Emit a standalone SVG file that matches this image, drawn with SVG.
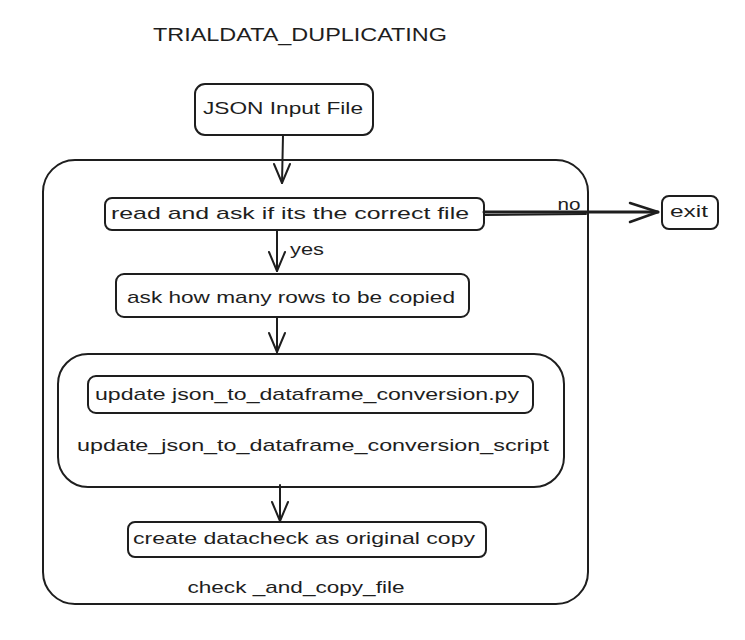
<svg xmlns="http://www.w3.org/2000/svg" width="745" height="640" viewBox="0 0 745 640">
  <style>
    .box { fill: #ffffff; stroke: #1e1e1e; stroke-width: 2; }
    .cont { fill: none; stroke: #1e1e1e; stroke-width: 2; }
    .lbl { font-family: "Liberation Sans", Arial, sans-serif; font-size: 17px; fill: #1e1e1e; text-anchor: middle; dominant-baseline: central; }
    .title { font-family: "Liberation Sans", Arial, sans-serif; font-size: 18px; fill: #1e1e1e; text-anchor: middle; dominant-baseline: central; }
    .edge { fill: none; stroke: #1e1e1e; stroke-width: 2; stroke-linecap: round; }
    .head { fill: none; stroke: #1e1e1e; stroke-width: 2; stroke-linecap: round; stroke-linejoin: round; }
  </style>
  <rect width="745" height="640" fill="#ffffff"/>

  <g id="title">
    <text class="title" x="300" y="35" textLength="294" lengthAdjust="spacingAndGlyphs">TRIALDATA_DUPLICATING</text>
  </g>

  <g id="check_and_copy_file">
    <rect class="cont" x="43" y="160" width="545" height="444" rx="32" ry="32"/>
    <text class="lbl" x="296" y="587" textLength="217" lengthAdjust="spacingAndGlyphs">check _and_copy_file</text>
  </g>

  <g id="update_json_to_dataframe_conversion_script">
    <rect class="cont" x="58" y="354" width="506" height="133" rx="30" ry="30"/>
    <text class="lbl" x="313" y="445" textLength="472" lengthAdjust="spacingAndGlyphs">update_json_to_dataframe_conversion_script</text>
  </g>

  <g id="json_input">
    <rect class="box" x="195" y="84" width="178" height="51" rx="10" ry="10"/>
    <text class="lbl" x="283" y="108" textLength="160" lengthAdjust="spacingAndGlyphs">JSON Input File</text>
  </g>

  <g id="read_ask">
    <rect class="box" x="105" y="198" width="379" height="32" rx="7" ry="7"/>
    <text class="lbl" x="290" y="213" textLength="358" lengthAdjust="spacingAndGlyphs">read and ask if its the correct file</text>
  </g>

  <g id="exit">
    <rect class="box" x="662" y="196" width="56" height="33" rx="7" ry="7"/>
    <text class="lbl" x="689" y="211" textLength="38" lengthAdjust="spacingAndGlyphs">exit</text>
  </g>

  <g id="ask_rows">
    <rect class="box" x="116" y="274" width="353" height="43" rx="8" ry="8"/>
    <text class="lbl" x="291" y="297" textLength="328" lengthAdjust="spacingAndGlyphs">ask how many rows to be copied</text>
  </g>

  <g id="update_py">
    <rect class="box" x="88" y="376" width="445" height="37" rx="8" ry="8"/>
    <text class="lbl" x="307" y="394" textLength="424" lengthAdjust="spacingAndGlyphs">update json_to_dataframe_conversion.py</text>
  </g>

  <g id="create_datacheck">
    <rect class="box" x="128" y="522" width="358" height="35" rx="7" ry="7"/>
    <text class="lbl" x="304" y="538" textLength="342" lengthAdjust="spacingAndGlyphs">create datacheck as original copy</text>
  </g>

  <g id="connectors">
    <!-- JSON -> read -->
    <path class="edge" d="M283 135 L282 183"/>
    <path class="head" d="M274 164 L282 183 L290 164"/>
    <!-- read -> ask (yes) -->
    <path class="edge" d="M277 230 L277 271"/>
    <path class="head" d="M269 252 L277 271 L285 252"/>
    <text class="lbl" x="307" y="249" textLength="34" lengthAdjust="spacingAndGlyphs">yes</text>
    <!-- ask -> inner -->
    <path class="edge" d="M277 317 L277 352"/>
    <path class="head" d="M269 333 L277 352 L285 333"/>
    <!-- inner -> create -->
    <path class="edge" d="M280 485 L280 521"/>
    <path class="head" d="M272 502 L280 521 L288 502"/>
    <!-- read -> exit (no) -->
    <path class="edge" d="M484 212 L658 212" style="stroke-width:3"/>
    <path class="edge" d="M485 215 L586 214"/>
    <path class="head" d="M630 203 L658 212 L630 222" style="stroke-width:2.5"/>
    <text class="lbl" x="569" y="204" font-size="15" textLength="23" lengthAdjust="spacingAndGlyphs">no</text>
  </g>
</svg>
